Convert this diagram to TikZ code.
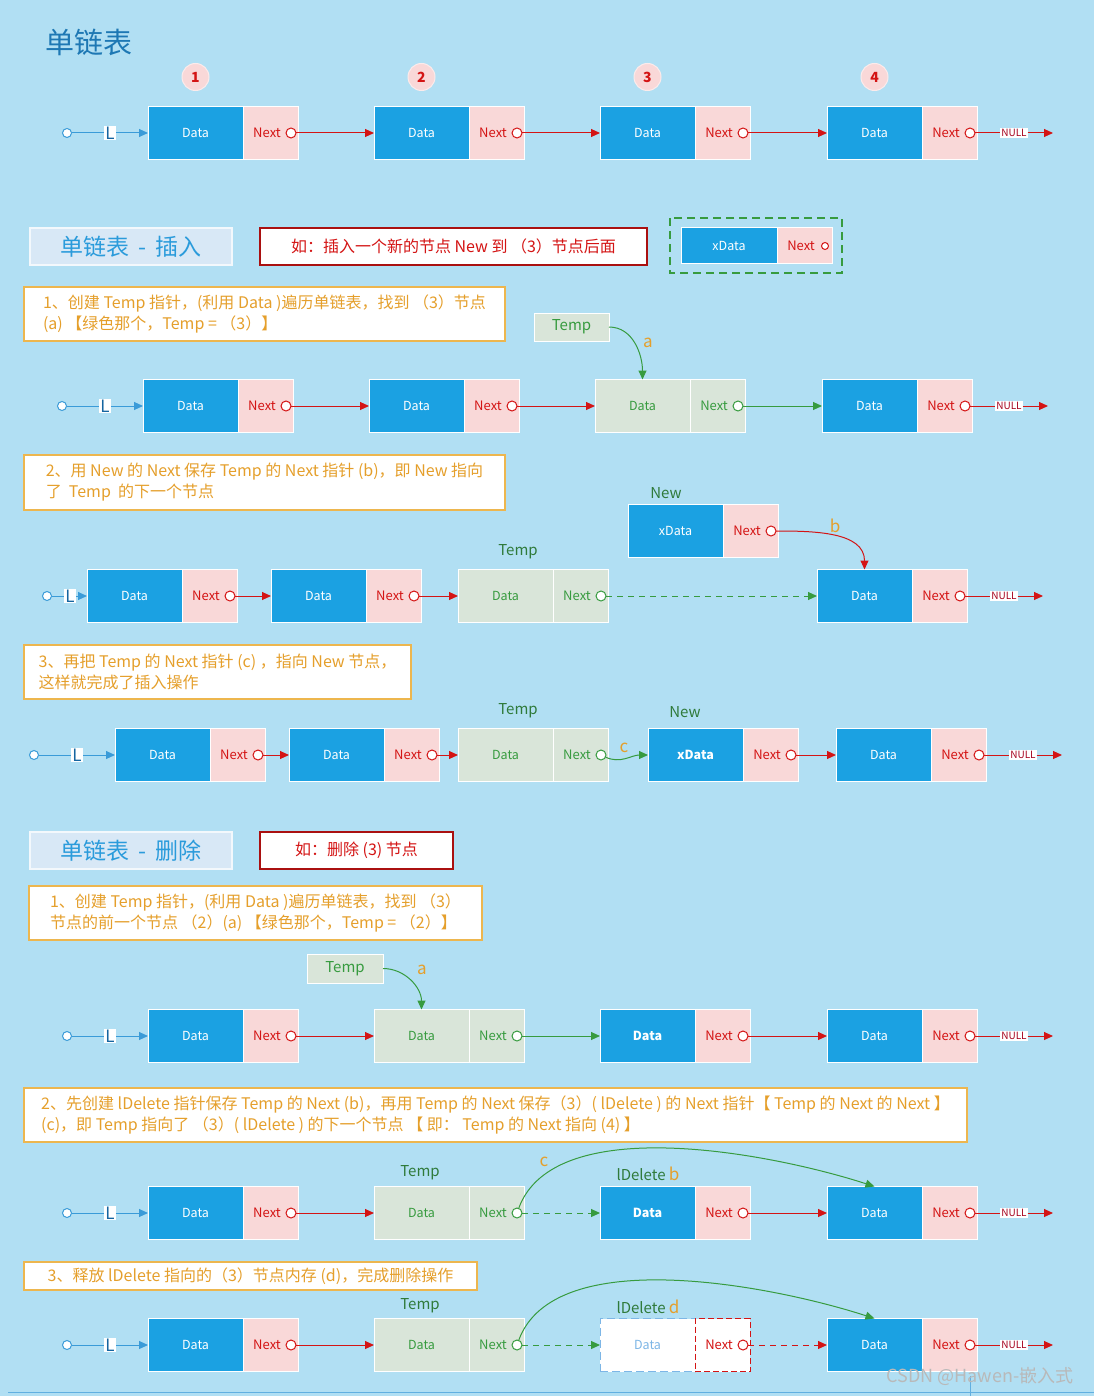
\documentclass[tikz,border=0pt]{standalone}
\usepackage{fontspec}
\setmainfont{Noto Sans CJK SC}
\usepackage{xcolor}
\usepackage{tikz}
\usetikzlibrary{positioning,calc,arrows.meta}

\definecolor{bgblue}{HTML}{B1DFF3}
\definecolor{datablue}{HTML}{1BA1E2}
\definecolor{nextpink}{HTML}{F9D8D8}
\definecolor{linkred}{HTML}{D41414}
\definecolor{nullred}{HTML}{A5001C}
\definecolor{tempgray}{HTML}{D9E5D9}
\definecolor{tempgreen}{HTML}{379B3F}
\definecolor{labelgreen}{HTML}{2F7A3A}
\definecolor{stepor}{HTML}{E59F2B}
\definecolor{stepline}{HTML}{EDB64E}
\definecolor{headblue}{HTML}{3A9BD8}
\definecolor{ltagblue}{HTML}{1565A0}
\definecolor{delblue}{HTML}{7DB6E6}
\definecolor{titleblue}{HTML}{1E78B4}
\definecolor{secfill}{HTML}{D8E8F6}
\definecolor{secblue}{HTML}{2A9BDB}

\begin{document}
\begin{tikzpicture}[x=1pt, y=1pt,
    every node/.style={inner sep=0pt, outer sep=0pt},
    cellb/.style={fill=datablue, draw=white, line width=1pt, minimum width=95pt,
                  minimum height=53pt, text=white, font=\fontsize{12.5}{14}\selectfont},
    cellx/.style={cellb, font=\fontsize{12.5}{14}\selectfont\bfseries},
    cellg/.style={cellb, fill=tempgray, text=tempgreen},
    cellw/.style={cellb, fill=white, draw=delblue, dash pattern=on 8pt off 4pt, text=delblue},
    nxtb/.style={fill=nextpink, draw=white, line width=1pt, minimum width=55pt,
                 minimum height=53pt, text=linkred, font=\fontsize{13}{14}\selectfont},
    nxtx/.style={nxtb},
    nxtg/.style={nxtb, fill=tempgray, text=tempgreen},
    nxtw/.style={nxtb, fill=white, draw=linkred, dash pattern=on 6pt off 3pt},
    ptrb/.style={circle, draw=linkred, fill=white, line width=1pt, minimum size=10pt},
    ptrx/.style={ptrb}, ptrw/.style={ptrb},
    ptrg/.style={ptrb, draw=tempgreen},
    redline/.style={draw=linkred, line width=1pt},
    redlink/.style={redline, -{Triangle[length=9pt,width=8pt]}},
    reddash/.style={redlink, dash pattern=on 6pt off 5pt},
    greenlink/.style={draw=tempgreen, line width=1pt, -{Triangle[length=9pt,width=8pt]}},
    greendash/.style={greenlink, dash pattern=on 6pt off 5pt},
    headline/.style={draw=headblue, line width=1pt},
    headlink/.style={headline, -{Triangle[length=9pt,width=8pt]}},
    headdot/.style={circle, draw=headblue, fill=white, line width=1pt, minimum size=9pt},
    ltag/.style={fill=white, text=ltagblue, font=\fontsize{17}{18}\selectfont, inner xsep=1.5pt, inner ysep=1pt},
    nulltag/.style={fill=white, text=nullred, font=\fontsize{10}{10}\selectfont, inner sep=1pt},
    badge/.style={circle, fill=nextpink, draw=white!50!nextpink, line width=1pt, minimum size=27pt,
                  text=linkred, font=\fontsize{14}{16}\selectfont\bfseries},
    secbox/.style={fill=secfill, draw=white!70!secfill, line width=1.5pt, text=secblue,
                   minimum width=202pt, minimum height=37pt, font=\fontsize{23}{26}\selectfont},
    exbox/.style={fill=white, draw=linkred!80!black, line width=1.2pt, text=linkred,
                  minimum height=37pt, font=\fontsize{16}{18}\selectfont},
    stepbox/.style={fill=white, draw=stepline, line width=1.2pt, text=stepor, align=left,
                    font=\fontsize{16}{21}\selectfont},
    tempbox/.style={fill=tempgray, draw=white, line width=1pt, text=tempgreen,
                    minimum width=75pt, minimum height=28pt, font=\fontsize{15}{18}\selectfont},
    ptrname/.style={text=labelgreen, font=\fontsize{15}{18}\selectfont},
    steptag/.style={text=stepor, font=\fontsize{17}{20}\selectfont},
]

% background and page size
\useasboundingbox (0,0) rectangle (1094,-1396);
\fill[bgblue] (0,0) rectangle (1094,-1396);
\draw[headblue!80, line width=0.8pt] (8,-1392) -- (1094,-1392);
\draw[headblue!80, line width=0.8pt] (970,-1376) -- (970,-1396);

\node[font=\fontsize{29}{32}\selectfont, text=titleblue] (title) at (89,-42) {单链表};

% ---------- row 1: plain list ----------
\foreach \x/\n/\kd/\lbl in {148/1/b/Data, 374/2/b/Data, 600/3/b/Data, 827/4/b/Data}{
  \node[cell\kd, anchor=west] (r1d\n) at (\x,-133) {\lbl};
  \node[nxt\kd, right=0pt of r1d\n] (r1n\n) {Next\kern7pt};
  \node[ptr\kd] (r1p\n) at ([xshift=-7pt]r1n\n.east) {};
  \node[badge, above=16pt of r1d\n] (badge\n) {\n};
}
\foreach \a/\b/\s in {1/2/redlink, 2/3/redlink, 3/4/redlink}
  \draw[\s] (r1p\a) -- (r1d\b);

% ---------- insert ----------
\node[secbox] (sec1) at (131,-246.5) {单链表\,~-~\,插入};
\node[exbox, minimum width=387pt] (ex1) at (453.5,-246.5) {如：插入一个新的节点 New 到 （3）节点后面};

% prototype of the new node
\node[cellb, minimum width=96pt, minimum height=36pt] (protod) at (729,-246) {xData};
\node[nxtb, minimum height=36pt, right=0pt of protod] (proton) {Next\kern7pt};
\node[ptrb, minimum size=7pt] (protop) at ([xshift=-7pt]proton.east) {};
\draw[tempgreen, line width=2pt, dash pattern=on 8pt off 5pt]
  ($(protod.north west)+(-11,10)$) rectangle ($(proton.south east)+(10,-9)$);

\node[stepbox, minimum width=481pt, minimum height=54pt] (step1) at (264.5,-314)
  {1、创建 Temp 指针，(利用 Data )遍历单链表，找到 （3）节点\\(a) 【绿色那个，Temp = （3）】};
\node[tempbox] (temp1) at (571.5,-327) {Temp};

% row 2
\foreach \x/\n/\kd/\lbl in {143/1/b/Data, 369/2/b/Data, 595/3/g/Data, 822/4/b/Data}{
  \node[cell\kd, anchor=west] (r2d\n) at (\x,-406) {\lbl};
  \node[nxt\kd, right=0pt of r2d\n] (r2n\n) {Next\kern7pt};
  \node[ptr\kd] (r2p\n) at ([xshift=-7pt]r2n\n.east) {};
}
\foreach \a/\b/\s in {1/2/redlink, 2/3/redlink, 3/4/greenlink}
  \draw[\s] (r2p\a) -- (r2d\b);
\draw[greenlink] (temp1.east) to[out=0, in=90] (r2d3.north);
\node[steptag] (tag1a) at (648,-343) {a};

\node[stepbox, minimum width=481pt, minimum height=55pt] (step2) at (264.5,-482.5)
  {2、用 New 的 Next 保存 Temp 的 Next 指针 (b)，即 New 指向\\了~ Temp~ 的下一个节点};

% row 3
\node[cellb, anchor=west] (r3newd) at (628,-531) {xData};
\node[nxtb, right=0pt of r3newd] (r3newn) {Next\kern7pt};
\node[ptrb] (r3newp) at ([xshift=-7pt]r3newn.east) {};
\node[ptrname] (r3new) at (666,-493) {New};
\node[ptrname] (r3temp) at (518,-552) {Temp};
\foreach \x/\n/\kd/\lbl in {87/1/b/Data, 271/2/b/Data, 458/3/g/Data, 817/4/b/Data}{
  \node[cell\kd, anchor=west] (r3d\n) at (\x,-596) {\lbl};
  \node[nxt\kd, right=0pt of r3d\n] (r3n\n) {Next\kern7pt};
  \node[ptr\kd] (r3p\n) at ([xshift=-7pt]r3n\n.east) {};
}
\foreach \a/\b/\s in {1/2/redlink, 2/3/redlink, 3/4/greendash}
  \draw[\s] (r3p\a) -- (r3d\b);
\draw[redlink] (r3newp) to[out=0, in=90] (r3d4.north);
\node[steptag] (tag1b) at (835,-526) {b};

\node[stepbox, minimum width=387pt, minimum height=54pt] (step3) at (217.5,-672)
  {3、再把 Temp 的 Next 指针 (c) ，指向 New 节点，\\这样就完成了插入操作};

% row 4
\node[ptrname] (r4temp) at (518,-711) {Temp};
\node[ptrname] (r4new) at (685,-712) {New};
\foreach \x/\n/\kd/\lbl in {115/1/b/Data, 289/2/b/Data, 458/3/g/Data, 648/4/x/xData, 836/5/b/Data}{
  \node[cell\kd, anchor=west] (r4d\n) at (\x,-755) {\lbl};
  \node[nxt\kd, right=0pt of r4d\n] (r4n\n) {Next\kern7pt};
  \node[ptr\kd] (r4p\n) at ([xshift=-7pt]r4n\n.east) {};
}
\foreach \a/\b/\s in {1/2/redlink, 2/3/redlink, 4/5/redlink}
  \draw[\s] (r4p\a) -- (r4d\b);
\draw[greenlink] (r4p3) to[out=-25, in=180] (r4d4);
\node[steptag] (tag1c) at (624,-748) {c};

% ---------- delete ----------
\node[secbox] (sec2) at (131,-850.5) {单链表\,~-~\,删除};
\node[exbox, minimum width=193pt] (ex2) at (356.5,-850.5) {如：删除 (3) 节点};

\node[stepbox, minimum width=453pt, minimum height=54pt] (dstep1) at (255.5,-913)
  {1、创建 Temp 指针，(利用 Data )遍历单链表，找到 （3）\\节点的前一个节点 （2）(a) 【绿色那个，Temp = （2）】};
\node[tempbox, minimum width=76pt, minimum height=29pt] (temp2) at (345,-968.5) {Temp};

% row 5
\foreach \x/\n/\kd/\lbl in {148/1/b/Data, 374/2/g/Data, 600/3/x/Data, 827/4/b/Data}{
  \node[cell\kd, anchor=west] (r5d\n) at (\x,-1036) {\lbl};
  \node[nxt\kd, right=0pt of r5d\n] (r5n\n) {Next\kern7pt};
  \node[ptr\kd] (r5p\n) at ([xshift=-7pt]r5n\n.east) {};
}
\foreach \a/\b/\s in {1/2/redlink, 2/3/greenlink, 3/4/redlink}
  \draw[\s] (r5p\a) -- (r5d\b);
\draw[greenlink] (temp2.east) to[out=0, in=90] (r5d2.north);
\node[steptag] (tag2a) at (422,-970) {a};

\node[stepbox, minimum width=943pt, minimum height=54pt] (dstep2) at (495.5,-1115)
  {2、先创建 lDelete 指针保存 Temp 的 Next (b)，再用 Temp 的 Next 保存（3）( lDelete ) 的 Next 指针【 Temp 的 Next 的 Next 】\\(c)，即 Temp 指向了 （3）( lDelete ) 的下一个节点 【 即： Temp 的 Next 指向 (4) 】};

% row 6
\node[ptrname] (r6temp) at (420,-1173) {Temp};
\node[ptrname] (r6del) at (648,-1174) {lDelete \textcolor{stepor}{\fontsize{17}{20}\selectfont b}};
\foreach \x/\n/\kd/\lbl in {148/1/b/Data, 374/2/g/Data, 600/3/x/Data, 827/4/b/Data}{
  \node[cell\kd, anchor=west] (r6d\n) at (\x,-1213) {\lbl};
  \node[nxt\kd, right=0pt of r6d\n] (r6n\n) {Next\kern7pt};
  \node[ptr\kd] (r6p\n) at ([xshift=-7pt]r6n\n.east) {};
}
\foreach \a/\b/\s in {1/2/redlink, 2/3/greendash, 3/4/redlink}
  \draw[\s] (r6p\a) -- (r6d\b);
\draw[greenlink] (r6p2) to[out=70, in=162, looseness=0.75] (r6d4.north);
\node[steptag] (tag2c) at (544,-1162) {c};

\node[stepbox, minimum width=453pt, minimum height=28pt] (dstep3) at (250.5,-1276)
  {3、释放 lDelete 指向的（3）节点内存 (d)，完成删除操作};

% row 7
\node[ptrname] (r7temp) at (420,-1306) {Temp};
\node[ptrname] (r7del) at (648,-1307) {lDelete \textcolor{stepor}{\fontsize{17}{20}\selectfont d}};
\foreach \x/\n/\kd/\lbl in {148/1/b/Data, 374/2/g/Data, 600/3/w/Data, 827/4/b/Data}{
  \node[cell\kd, anchor=west] (r7d\n) at (\x,-1345) {\lbl};
  \node[nxt\kd, right=0pt of r7d\n] (r7n\n) {Next\kern7pt};
  \node[ptr\kd] (r7p\n) at ([xshift=-7pt]r7n\n.east) {};
}
\foreach \a/\b/\s in {1/2/redlink, 2/3/greendash, 3/4/reddash}
  \draw[\s] (r7p\a) -- (r7d\b);
\draw[greenlink] (r7p2) to[out=70, in=162, looseness=0.75] (r7d4.north);

% head pointer L and NULL end of every row
\foreach \r/\y/\hx/\lx/\nx/\last in {1/133/67/110/1014/4, 2/406/62/105/1009/4, 3/596/47/70/1004/4,
    4/755/34/77/1023/5, 5/1036/67/110/1014/4, 6/1213/67/110/1014/4, 7/1345/67/110/1014/4}{
  \node[headdot] (r\r h) at (\hx,-\y) {};
  \node[ltag] (r\r L) at (\lx,-\y) {L};
  \draw[headline] (r\r h) -- (r\r L);
  \draw[headlink] (r\r L) -- (r\r d1);
  \node[nulltag] (r\r null) at (\nx,-\y) {NULL};
  \coordinate (r\r end) at (\nx+39,-\y);
  \draw[redline] (r\r p\last) -- (r\r null);
  \draw[redlink] (r\r null) -- (r\r end);
}

\node[text=gray!55!white, font=\fontsize{18}{20}\selectfont] (mark) at (980,-1376) {CSDN @Hawen-嵌入式};

\end{tikzpicture}
\end{document}
